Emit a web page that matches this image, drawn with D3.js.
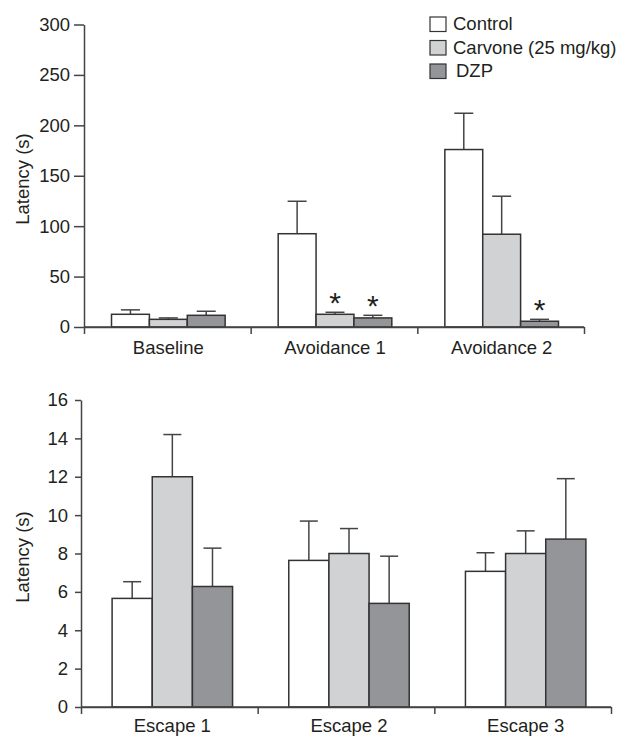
<!DOCTYPE html>
<html>
<head>
<meta charset="utf-8">
<script src="https://cdn.jsdelivr.net/npm/d3@7"></script>
<style>
  html, body { margin: 0; padding: 0; background: #fff; }
  svg { display: block; font-family: "Liberation Sans", Arial, Helvetica, sans-serif; }
</style>
</head>
<body>
<svg id="chart" width="619" height="737"></svg>
<script>
// ---------- Data ----------
const seriesNames = ["Control", "Carvone (25 mg/kg)", "DZP"];

// Top panel (avoidance)
const topCategories = ["Baseline", "Avoidance 1", "Avoidance 2"];
const topControl     = [12.6, 92.5, 176];
const topControlErr  = [4.4, 32.2, 36];
const topCarvone     = [7.6, 12.6, 92];
const topCarvoneErr  = [1.4, 2.0, 37.7];
const topDZP         = [11.6, 9.0, 5.7];
const topDZPErr      = [4.0, 2.6, 1.9];
const topSignificant = [[false, false, false], [false, true, true], [false, false, true]];
const topTicks = [0, 50, 100, 150, 200, 250, 300];

// Bottom panel (escape)
const bottomCategories = ["Escape 1", "Escape 2", "Escape 3"];
const bottomControl    = [5.66, 7.64, 7.07];
const bottomControlErr = [0.87, 2.05, 0.97];
const bottomCarvone    = [12.0, 8.0, 8.0];
const bottomCarvoneErr = [2.2, 1.3, 1.18];
const bottomDZP        = [6.28, 5.4, 8.75];
const bottomDZPErr     = [2.0, 2.46, 3.15];
const bottomTicks = [0, 2, 4, 6, 8, 10, 12, 14, 16];

// ---------- Style ----------
const fills = ["#ffffff", "#d1d2d4", "#939598"];
const strokeCol = "#333333";
const axisCol = "#444444";
const textCol = "#231f20";
const fontSize = "18.5px";

const svg = d3.select("#chart");

function buildRows(categories, vals, errs, sig) {
  return categories.map((c, i) => ({
    category: c,
    items: seriesNames.map((s, j) => ({
      series: s, idx: j,
      value: vals[j][i], err: errs[j][i],
      sig: sig ? sig[i][j] : false
    }))
  }));
}

function drawPanel(opts) {
  const g = svg.append("g");
  const y = d3.scaleLinear().domain(opts.yDomain).range([opts.yBottom, opts.yTop]);
  const x0 = d3.scaleBand().domain(opts.categories).range([opts.xLeft, opts.xRight]).padding(0);
  const x1 = d3.scaleBand().domain(seriesNames).range([0, x0.bandwidth()]).paddingInner(0).paddingOuter(0.7);

  // y axis
  const yAxis = d3.axisLeft(y).tickValues(opts.ticks).tickSize(opts.tickSize)
    .tickSizeOuter(0).tickPadding(opts.tickPadding);
  const ya = g.append("g").attr("transform", `translate(${opts.xLeft},0)`).call(yAxis);
  ya.selectAll("path, line").attr("stroke", axisCol).attr("stroke-width", 1.5);
  ya.selectAll("text").attr("fill", textCol).style("font-size", fontSize)
    .style("font-family", '"Liberation Sans", Arial, sans-serif');

  // x axis with boundary ticks
  const xb = d3.scaleLinear().domain([0, opts.categories.length]).range([opts.xLeft, opts.xRight]);
  const xAxis = d3.axisBottom(xb).tickValues(d3.range(0, opts.categories.length + 1))
    .tickSize(opts.xTickSize).tickSizeOuter(0).tickFormat("");
  const xa = g.append("g").attr("transform", `translate(0,${opts.yBottom})`).call(xAxis);
  xa.selectAll("path, line").attr("stroke", axisCol).attr("stroke-width", 1.5);

  // category labels
  g.selectAll("text.cat").data(opts.categories).join("text")
    .attr("class", "cat")
    .attr("x", d => x0(d) + x0.bandwidth() / 2 + opts.shift)
    .attr("y", opts.catLabelY)
    .attr("text-anchor", "middle")
    .attr("fill", textCol)
    .style("font-size", fontSize)
    .text(d => d);

  // y label
  g.append("text")
    .attr("transform", `translate(${opts.yLabelX},${opts.yLabelY}) rotate(-90)`)
    .attr("text-anchor", "middle")
    .attr("dy", "0.35em")
    .attr("fill", textCol)
    .style("font-size", fontSize)
    .text("Latency (s)");

  const groups = g.selectAll("g.grp").data(opts.rows).join("g")
    .attr("class", "grp")
    .attr("transform", d => `translate(${x0(d.category) + opts.shift},0)`);

  // error bars (behind bars)
  const eb = groups.selectAll("g.err").data(d => d.items).join("g").attr("class", "err");
  eb.append("line")
    .attr("x1", d => x1(d.series) + x1.bandwidth() / 2)
    .attr("x2", d => x1(d.series) + x1.bandwidth() / 2)
    .attr("y1", d => y(d.value))
    .attr("y2", d => y(d.value + d.err))
    .attr("stroke", axisCol).attr("stroke-width", 1.5);
  eb.append("line")
    .attr("x1", d => x1(d.series) + x1.bandwidth() / 2 - opts.capW / 2)
    .attr("x2", d => x1(d.series) + x1.bandwidth() / 2 + opts.capW / 2)
    .attr("y1", d => y(d.value + d.err))
    .attr("y2", d => y(d.value + d.err))
    .attr("stroke", axisCol).attr("stroke-width", 1.5);

  // bars
  groups.selectAll("rect").data(d => d.items).join("rect")
    .attr("x", d => x1(d.series))
    .attr("y", d => y(d.value))
    .attr("width", x1.bandwidth())
    .attr("height", d => y(0) - y(d.value))
    .attr("fill", d => fills[d.idx])
    .attr("stroke", strokeCol)
    .attr("stroke-width", 1.5);

  // significance asterisks
  groups.selectAll("text.sig").data(d => d.items.filter(it => it.sig)).join("text")
    .attr("class", "sig")
    .attr("x", d => x1(d.series) + x1.bandwidth() / 2)
    .attr("y", d => y(d.value + d.err) + 1)
    .attr("text-anchor", "middle")
    .attr("fill", textCol)
    .style("font-size", "30px")
    .text("*");

  // redraw x axis line on top of bars
  g.append("line")
    .attr("x1", opts.xLeft).attr("x2", opts.xRight)
    .attr("y1", opts.yBottom).attr("y2", opts.yBottom)
    .attr("stroke", axisCol).attr("stroke-width", 1.5);
}

drawPanel({
  categories: topCategories,
  rows: buildRows(topCategories, [topControl, topCarvone, topDZP], [topControlErr, topCarvoneErr, topDZPErr], topSignificant),
  yDomain: [0, 300], yBottom: 327, yTop: 24.5,
  xLeft: 84, xRight: 584, ticks: topTicks,
  tickSize: 10, tickPadding: 4, xTickSize: 7,
  catLabelY: 354, yLabelX: 23, yLabelY: 179,
  capW: 19, shift: 1
});

drawPanel({
  categories: bottomCategories,
  rows: buildRows(bottomCategories, [bottomControl, bottomCarvone, bottomDZP], [bottomControlErr, bottomCarvoneErr, bottomDZPErr], null),
  yDomain: [0, 16], yBottom: 707, yTop: 400,
  xLeft: 81, xRight: 611, ticks: bottomTicks,
  tickSize: 6, tickPadding: 7, xTickSize: 7,
  catLabelY: 732, yLabelX: 23, yLabelY: 557,
  capW: 18, shift: 3
});

// legend
const legend = svg.append("g").attr("transform", "translate(430,17)");
const li = legend.selectAll("g").data(seriesNames).join("g")
  .attr("transform", (d, i) => `translate(0,${i * 23.5})`);
li.append("rect")
  .attr("width", 16).attr("height", 14.5)
  .attr("fill", (d, i) => fills[i])
  .attr("stroke", strokeCol).attr("stroke-width", 1.2);
li.append("text")
  .attr("x", (d, i) => i === 2 ? 26 : 23)
  .attr("y", 13)
  .attr("fill", textCol)
  .style("font-size", fontSize)
  .text(d => d);
</script>
</body>
</html>
